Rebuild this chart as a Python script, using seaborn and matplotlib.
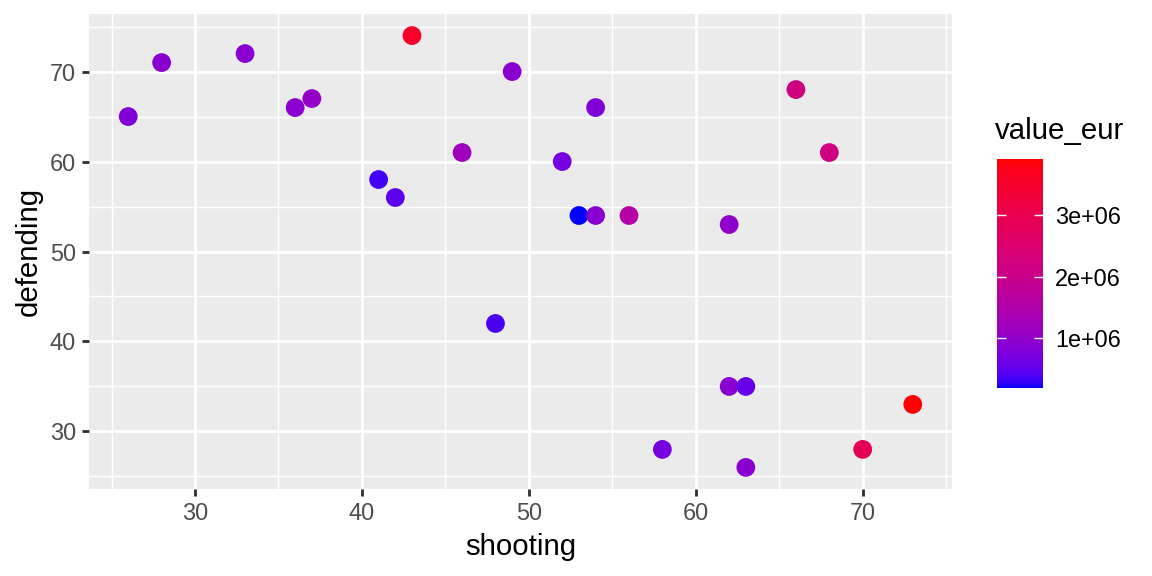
import numpy as np
import pandas as pd
import matplotlib
matplotlib.use("Agg")
import matplotlib.pyplot as plt
from matplotlib.colors import ListedColormap, Normalize
import seaborn as sns

shooting = [26, 28, 33, 36, 37, 43, 49, 46, 41, 42, 54, 52, 53, 54, 56, 62, 48, 66, 68, 62, 63, 73, 58, 70, 63]
defending = [65, 71, 72, 66, 67, 74, 70, 61, 58, 56, 66, 60, 54, 54, 54, 53, 42, 68, 61, 35, 35, 33, 28, 28, 26]
value_eur = [0.8e6, 0.9e6, 0.9e6, 0.9e6, 1.05e6, 3.5e6, 0.9e6, 1.2e6, 0.35e6, 0.5e6, 0.8e6, 0.7e6, 0.2e6,
             0.9e6, 1.6e6, 1.0e6, 0.4e6, 2.2e6, 2.2e6, 0.9e6, 0.55e6, 3.9e6, 0.7e6, 2.9e6, 0.9e6]
cbar_ticks = [1e6, 2e6, 3e6]
cbar_labels = ["1e+06", "2e+06", "3e+06"]

df = pd.DataFrame({"shooting": shooting, "defending": defending, "value_eur": value_eur})

# Lab interpolation between blue and red (like ggplot's scale_colour_gradient)
def srgb_to_lab(rgb):
    rgb = np.asarray(rgb, float)
    lin = np.where(rgb <= 0.04045, rgb / 12.92, ((rgb + 0.055) / 1.055) ** 2.4)
    M = np.array([[0.4124564, 0.3575761, 0.1804375],
                  [0.2126729, 0.7151522, 0.0721750],
                  [0.0193339, 0.1191920, 0.9503041]])
    xyz = M @ lin
    wp = np.array([0.95047, 1.0, 1.08883])
    t = xyz / wp
    f = np.where(t > (6 / 29) ** 3, np.cbrt(t), t / (3 * (6 / 29) ** 2) + 4 / 29)
    return np.array([116 * f[1] - 16, 500 * (f[0] - f[1]), 200 * (f[1] - f[2])])

def lab_to_srgb(lab):
    L, a, b = lab
    fy = (L + 16) / 116
    fx = fy + a / 500
    fz = fy - b / 200
    def finv(t):
        return np.where(t > 6 / 29, t ** 3, 3 * (6 / 29) ** 2 * (t - 4 / 29))
    wp = np.array([0.95047, 1.0, 1.08883])
    xyz = np.array([finv(fx), finv(fy), finv(fz)]) * wp
    Minv = np.array([[3.2404542, -1.5371385, -0.4985314],
                     [-0.9692660, 1.8760108, 0.0415560],
                     [0.0556434, -0.2040259, 1.0572252]])
    lin = Minv @ xyz
    lin = np.clip(lin, 0, 1)
    rgb = np.where(lin <= 0.0031308, 12.92 * lin, 1.055 * lin ** (1 / 2.4) - 0.055)
    return np.clip(rgb, 0, 1)

lab_lo = srgb_to_lab([0, 0, 1])
lab_hi = srgb_to_lab([1, 0, 0])
cols = [lab_to_srgb(lab_lo + (lab_hi - lab_lo) * t) for t in np.linspace(0, 1, 256)]
cmap = ListedColormap(cols)

vmin, vmax = min(value_eur), max(value_eur)
norm = Normalize(vmin, vmax)

S = 4 / 3  # text/line scale
plt.rcParams["font.family"] = ["Liberation Sans", "DejaVu Sans"]
fig = plt.figure(figsize=(8, 4), dpi=144)
ax = fig.add_axes([89 / 1152, 1 - 489 / 576, (952 - 89) / 1152, (489 - 14) / 576])
ax.set_facecolor("#EBEBEB")

sns.scatterplot(data=df, x="shooting", y="defending", hue="value_eur", palette=cmap,
                hue_norm=norm, s=88, linewidth=0, legend=False, ax=ax, zorder=3)

xr = max(shooting) - min(shooting)
yr = max(defending) - min(defending)
ax.set_xlim(min(shooting) - 0.05 * xr, max(shooting) + 0.05 * xr)
ax.set_ylim(min(defending) - 0.05 * yr, max(defending) + 0.05 * yr)
ax.set_xticks([30, 40, 50, 60, 70])
ax.set_yticks([30, 40, 50, 60, 70])
ax.set_xticks([25, 35, 45, 55, 65, 75], minor=True)
ax.set_yticks([25, 35, 45, 55, 65, 75], minor=True)
ax.grid(which="major", color="white", linewidth=1.07 * S)
ax.grid(which="minor", color="white", linewidth=0.53 * S)
ax.set_axisbelow(True)
for sp in ax.spines.values():
    sp.set_visible(False)
ax.tick_params(which="major", length=2.75 * S, width=1.07 * S, color="#333333", labelsize=8.8 * S,
               labelcolor="#4D4D4D", pad=2.2 * S)
ax.tick_params(which="minor", length=0)
ax.set_xlabel("shooting", fontsize=11 * S, color="black", labelpad=2.75 * S)
ax.set_ylabel("defending", fontsize=11 * S, color="black", labelpad=2.75 * S)

# colorbar
cax = fig.add_axes([997 / 1152, 1 - 388 / 576, 46 / 1152, (388 - 159) / 576])
sm = plt.cm.ScalarMappable(norm=norm, cmap=cmap)
cb = fig.colorbar(sm, cax=cax)
cb.outline.set_visible(False)
cb.set_ticks(cbar_ticks)
cb.set_ticklabels(cbar_labels)
cax.tick_params(which="major", direction="in", length=4.6, width=0.7, color="white",
                left=True, right=True, labelsize=8.8 * S, labelcolor="black", pad=6)
cax.minorticks_off()
fig.text(995 / 1152, 1 - 131 / 576, "value_eur", fontsize=11 * S, ha="left", va="center")

fig.savefig("out.png", dpi=144)
